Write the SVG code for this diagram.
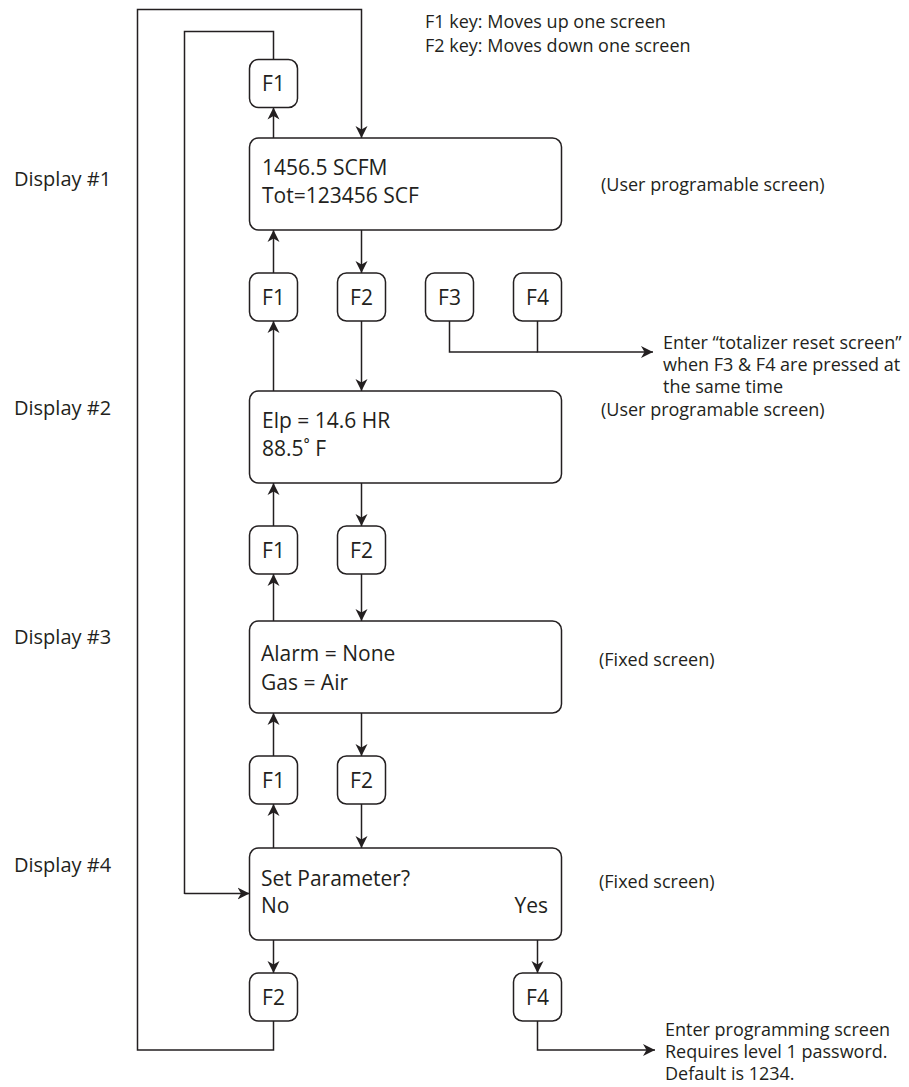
<svg xmlns="http://www.w3.org/2000/svg" width="909" height="1087" viewBox="0 0 909 1087">
<style>
.box{fill:#fff;stroke:#231f20;stroke-width:1.5}
.ln{fill:none;stroke:#231f20;stroke-width:1.5}
.arr{marker-end:url(#ah)}
text{font-family:"Open Sans","Noto Sans",sans-serif;fill:#231f20}
.dt{font-size:21px}
.ft{font-size:21px;text-anchor:middle}
.an{font-size:18px}
.lb{font-size:20px}
</style>
<defs>
<marker id="ah" markerUnits="userSpaceOnUse" markerWidth="13" markerHeight="13" refX="12" refY="6.5" orient="auto" viewBox="0 0 13 13">
<path d="M0,0.5 L12,6.5 L0,12.5 L3.5,6.5 Z" fill="#231f20"/>
</marker>
</defs>
<rect width="909" height="1087" fill="#fff"/>

<g id="legend">
<text class="an" x="425" y="28">F1 key: Moves up one screen</text>
<text class="an" x="425" y="52">F2 key: Moves down one screen</text>
</g>

<g id="labels">
<text class="lb" x="14" y="186">Display #1</text>
<text class="lb" x="14" y="415">Display #2</text>
<text class="lb" x="14" y="644">Display #3</text>
<text class="lb" x="14" y="872">Display #4</text>
</g>

<g id="connectors">
<path class="ln arr" d="M273.5,1021 V1050 H137.5 V9.5 H361.5 V138"/>
<path class="ln" d="M273.5,59.5 V31.5 H184.5 V894"/>
<path class="ln arr" d="M184.5,893.5 H249.5"/>
<path class="ln arr" d="M273.5,138 V107.5"/>
<path class="ln arr" d="M273.5,273 V230"/>
<path class="ln arr" d="M361.5,230 V273"/>
<path class="ln arr" d="M273.5,391 V321"/>
<path class="ln arr" d="M361.5,321 V391"/>
<path class="ln" d="M449.5,321 V352 H537.5"/>
<path class="ln arr" d="M537.5,321 V352 H653"/>
<path class="ln arr" d="M273.5,526 V483"/>
<path class="ln arr" d="M361.5,483 V526"/>
<path class="ln arr" d="M273.5,621 V574"/>
<path class="ln arr" d="M361.5,574 V621"/>
<path class="ln arr" d="M273.5,756 V713"/>
<path class="ln arr" d="M361.5,713 V756"/>
<path class="ln arr" d="M273.5,848 V804"/>
<path class="ln arr" d="M361.5,804 V848"/>
<path class="ln arr" d="M273.5,940 V973"/>
<path class="ln arr" d="M537.5,940 V973"/>
<path class="ln arr" d="M537.5,1021 V1050 H655"/>
</g>

<g id="F1top"><rect class="box" x="249.5" y="59.5" width="48" height="48" rx="9"/><text class="ft" x="273.5" y="91">F1</text></g>

<g id="display1">
<rect class="box" x="249.5" y="138" width="312" height="92" rx="9"/>
<text class="dt" x="262" y="175">1456.5 SCFM</text>
<text class="dt" x="262" y="203">Tot=123456 SCF</text>
</g>
<text class="an" x="601" y="191">(User programable screen)</text>

<g id="r1F1"><rect class="box" x="249.5" y="273" width="48" height="48" rx="9"/><text class="ft" x="273.5" y="304.5">F1</text></g>
<g id="r1F2"><rect class="box" x="337.5" y="273" width="48" height="48" rx="9"/><text class="ft" x="361.5" y="304.5">F2</text></g>
<g id="r1F3"><rect class="box" x="425.5" y="273" width="48" height="48" rx="9"/><text class="ft" x="449.5" y="304.5">F3</text></g>
<g id="r1F4"><rect class="box" x="513.5" y="273" width="48" height="48" rx="9"/><text class="ft" x="537.5" y="304.5">F4</text></g>

<g id="resetNote">
<text class="an" x="663" y="349">Enter “totalizer reset screen”</text>
<text class="an" x="663" y="371">when F3 &amp; F4 are pressed at</text>
<text class="an" x="663" y="393">the same time</text>
</g>

<g id="display2">
<rect class="box" x="249.5" y="391" width="312" height="92" rx="9"/>
<text class="dt" x="262" y="428">Elp = 14.6 HR</text>
<text class="dt" x="262" y="456">88.5˚ F</text>
</g>
<text class="an" x="601" y="416">(User programable screen)</text>

<g id="r2F1"><rect class="box" x="249.5" y="526" width="48" height="48" rx="9"/><text class="ft" x="273.5" y="557.5">F1</text></g>
<g id="r2F2"><rect class="box" x="337.5" y="526" width="48" height="48" rx="9"/><text class="ft" x="361.5" y="557.5">F2</text></g>

<g id="display3">
<rect class="box" x="249.5" y="621" width="312" height="92" rx="9"/>
<text class="dt" x="261" y="661">Alarm = None</text>
<text class="dt" x="261" y="690">Gas = Air</text>
</g>
<text class="an" x="599" y="666">(Fixed screen)</text>

<g id="r3F1"><rect class="box" x="249.5" y="756" width="48" height="48" rx="9"/><text class="ft" x="273.5" y="787.5">F1</text></g>
<g id="r3F2"><rect class="box" x="337.5" y="756" width="48" height="48" rx="9"/><text class="ft" x="361.5" y="787.5">F2</text></g>

<g id="display4">
<rect class="box" x="249.5" y="848" width="312" height="92" rx="9"/>
<text class="dt" x="261" y="886">Set Parameter?</text>
<text class="dt" x="261" y="913">No</text>
<text class="dt" x="548" y="913" text-anchor="end">Yes</text>
</g>
<text class="an" x="599" y="888">(Fixed screen)</text>

<g id="r4F2"><rect class="box" x="249.5" y="973" width="48" height="48" rx="9"/><text class="ft" x="273.5" y="1004.5">F2</text></g>
<g id="r4F4"><rect class="box" x="513.5" y="973" width="48" height="48" rx="9"/><text class="ft" x="537.5" y="1004.5">F4</text></g>

<g id="progNote">
<text class="an" x="665" y="1036">Enter programming screen</text>
<text class="an" x="665" y="1058">Requires level 1 password.</text>
<text class="an" x="665" y="1080">Default is 1234.</text>
</g>
</svg>
